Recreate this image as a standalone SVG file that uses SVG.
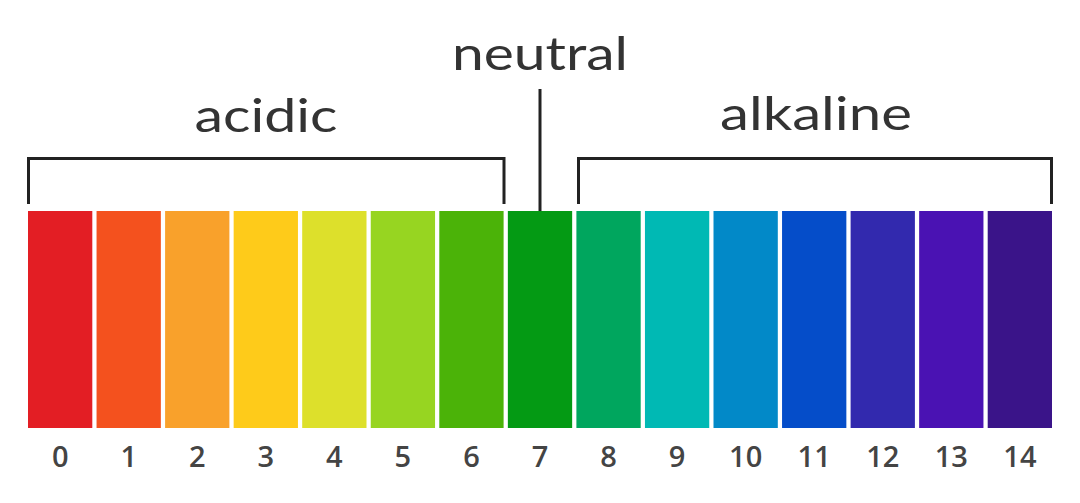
<svg xmlns="http://www.w3.org/2000/svg" width="1080" height="503" viewBox="0 0 1080 503">
<style>
.lbl{font-family:"Lato","Liberation Sans",sans-serif;font-size:46px;fill:#333;text-anchor:middle}
.num{font-family:"Open Sans","Liberation Sans",sans-serif;font-size:29px;font-weight:600;fill:#444;text-anchor:middle}
.br{fill:none;stroke:#222;stroke-width:3}
</style>
<rect width="1080" height="503" fill="#fff"/>
<g id="labels">
<text class="lbl" x="540" y="70" textLength="176" lengthAdjust="spacingAndGlyphs">neutral</text>
<text class="lbl" x="266" y="132" textLength="143" lengthAdjust="spacingAndGlyphs">acidic</text>
<text class="lbl" x="816" y="130" textLength="192" lengthAdjust="spacingAndGlyphs">alkaline</text>
</g>
<g id="connectors">
<path class="br" d="M28.5,204 V158.5 H504 V204"/>
<path class="br" d="M578.5,204 V158.5 H1051.5 V204"/>
<path class="br" d="M540,89 V211"/>
</g>
<g id="scale">
<rect x="28" y="211" width="64.3" height="217" fill="#E31E24"/>
<rect x="96.55" y="211" width="64.3" height="217" fill="#F4511E"/>
<rect x="165.1" y="211" width="64.3" height="217" fill="#F9A12B"/>
<rect x="233.65" y="211" width="64.3" height="217" fill="#FECB1A"/>
<rect x="302.2" y="211" width="64.3" height="217" fill="#DDE02B"/>
<rect x="370.75" y="211" width="64.3" height="217" fill="#97D521"/>
<rect x="439.3" y="211" width="64.3" height="217" fill="#4BB308"/>
<rect x="507.85" y="211" width="64.3" height="217" fill="#049A14"/>
<rect x="576.4" y="211" width="64.3" height="217" fill="#00A65E"/>
<rect x="644.95" y="211" width="64.3" height="217" fill="#00B9B4"/>
<rect x="713.5" y="211" width="64.3" height="217" fill="#0289C8"/>
<rect x="782.05" y="211" width="64.3" height="217" fill="#054DC9"/>
<rect x="850.6" y="211" width="64.3" height="217" fill="#3229AE"/>
<rect x="919.15" y="211" width="64.3" height="217" fill="#4A12B3"/>
<rect x="987.7" y="211" width="64.3" height="217" fill="#3A1489"/>
</g>
<g id="numbers">
<text class="num" x="60.2" y="467">0</text>
<text class="num" x="128.7" y="467">1</text>
<text class="num" x="197.3" y="467">2</text>
<text class="num" x="265.8" y="467">3</text>
<text class="num" x="334.4" y="467">4</text>
<text class="num" x="402.9" y="467">5</text>
<text class="num" x="471.5" y="467">6</text>
<text class="num" x="540" y="467">7</text>
<text class="num" x="608.6" y="467">8</text>
<text class="num" x="677.1" y="467">9</text>
<text class="num" x="745.7" y="467">10</text>
<text class="num" x="814.2" y="467">11</text>
<text class="num" x="882.8" y="467">12</text>
<text class="num" x="951.3" y="467">13</text>
<text class="num" x="1019.9" y="467">14</text>
</g>
</svg>
